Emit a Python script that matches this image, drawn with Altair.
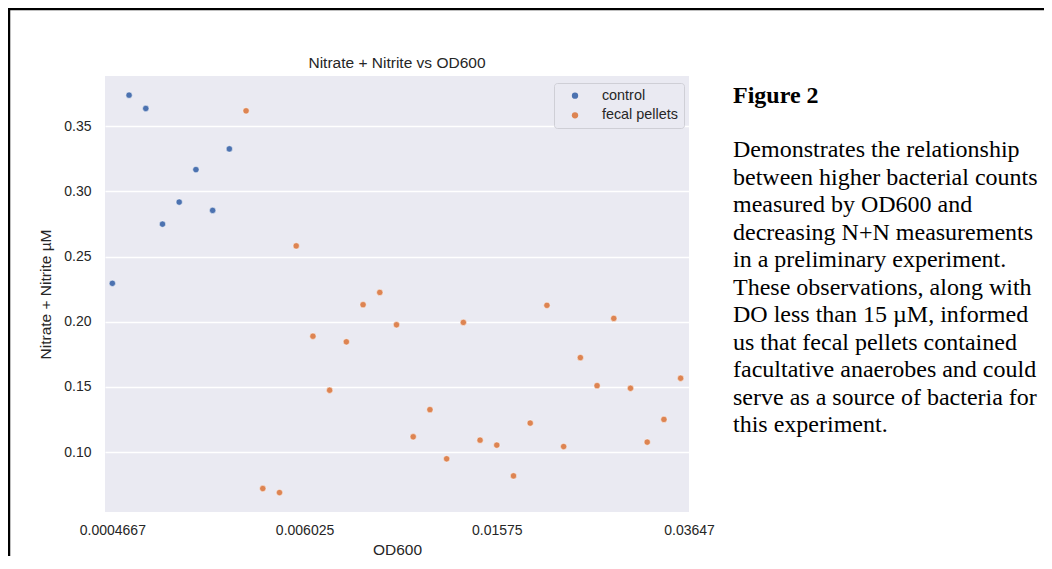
import altair as alt
import pandas as pd

# ---- data (x = rank position of the OD600 category) ----
control_pos = [0, 1, 2, 3, 4, 5, 6, 7]
control_nn = [0.2295, 0.3738, 0.3636, 0.2749, 0.2918, 0.3167, 0.2854, 0.3326]

fecal_pos = [8, 9, 10, 11, 12, 13, 14, 15, 16, 17, 18, 19, 20, 21, 22, 23, 24,
             25, 26, 27, 28, 29, 30, 31, 32, 33, 34]
fecal_nn = [0.3618, 0.0721, 0.0690, 0.2582, 0.1889, 0.1475, 0.1846, 0.2131,
            0.2225, 0.1977, 0.1118, 0.1326, 0.0949, 0.1995, 0.1092, 0.1054,
            0.0818, 0.1223, 0.2126, 0.1043, 0.1725, 0.1510, 0.2026, 0.1490,
            0.1077, 0.1251, 0.1567]

groups = ["control", "fecal pellets"]
group_colors = ["#4C72B0", "#DD8452"]

x_tick_pos = [0, 11.5, 23, 34.5]
x_tick_labels = ["0.0004667", "0.006025", "0.01575", "0.03647"]
y_ticks = [0.10, 0.15, 0.20, 0.25, 0.30, 0.35]

plot_title = "Nitrate + Nitrite vs OD600"
caption_title = "Figure 2"
caption_lines = [
    "Demonstrates the relationship",
    "between higher bacterial counts",
    "measured by OD600 and",
    "decreasing N+N measurements",
    "in a preliminary experiment.",
    "These observations, along with",
    "DO less than 15 \u00b5M, informed",
    "us that fecal pellets contained",
    "facultative anaerobes and could",
    "serve as a source of bacteria for",
    "this experiment.",
]

# ---- build table ----
df = pd.DataFrame({
    "pos": control_pos + fecal_pos,
    "nn": control_nn + fecal_nn,
    "group": [groups[0]] * len(control_pos) + [groups[1]] * len(fecal_pos),
})

label_expr = "''"
for p, l in reversed(list(zip(x_tick_pos, x_tick_labels))):
    label_expr = f"datum.value == {p} ? '{l}' : ({label_expr})"

W, H = 584, 436
PAD = {"left": 97, "top": 68, "right": 355, "bottom": 44}
TXT = "#262626"
SANS = "Liberation Sans"

points = alt.Chart(df).mark_circle(
    size=40, opacity=1, stroke="white", strokeWidth=0.5
).encode(
    x=alt.X("pos:Q",
            scale=alt.Scale(domain=[-0.44, 34.5], nice=False, zero=False),
            axis=alt.Axis(values=x_tick_pos, labelExpr=label_expr, grid=False,
                          domain=False, ticks=False, labelPadding=11,
                          labelFontSize=14, labelColor=TXT, labelFont=SANS,
                          title="OD600", titleFontSize=15.5, titleFontWeight="normal",
                          titleColor=TXT, titleFont=SANS, titlePadding=5,
                          labelOverlap=False, labelFlush=False)),
    y=alt.Y("nn:Q",
            scale=alt.Scale(domain=[0.0541, 0.3885], nice=False, zero=False),
            axis=alt.Axis(values=y_ticks, format=".2f", grid=True, gridColor="white",
                          gridWidth=1.3, domain=False, ticks=False, labelPadding=14,
                          labelFontSize=14, labelColor=TXT, labelFont=SANS,
                          title="Nitrate + Nitrite \u00b5M", titleFontSize=15.5,
                          titleFontWeight="normal", titleColor=TXT, titleFont=SANS,
                          titlePadding=10)),
    color=alt.Color("group:N",
                    scale=alt.Scale(domain=groups, range=group_colors),
                    legend=alt.Legend(title=None, orient="none", legendX=449, legendY=7,
                                      fillColor="#EAEAF2", strokeColor="#CFCFD6",
                                      cornerRadius=3, padding=5.5, symbolOffset=8.3,
                                      labelOffset=19.7, labelFontSize=14.4, labelFont=SANS,
                                      labelColor=TXT, rowPadding=4.6, symbolSize=40,
                                      symbolType="circle", symbolStrokeWidth=0)),
)

one = pd.DataFrame({"k": [0]})

frame_top = alt.Chart(one).mark_rule(color="black", strokeWidth=2.5).encode(
    x=alt.value(-PAD["left"]), x2=alt.value(W + PAD["right"]), y=alt.value(-67))
frame_left = alt.Chart(one).mark_rule(color="black", strokeWidth=2.5).encode(
    x=alt.value(-PAD["left"] + 1), y=alt.value(-PAD["top"]), y2=alt.value(H + PAD["bottom"]))

title_mark = alt.Chart(one).mark_text(
    text=plot_title, font=SANS, fontSize=15.5, align="center", baseline="alphabetic",
    color=TXT
).encode(x=alt.value(W / 2), y=alt.value(-8))

fig_title = alt.Chart(one).mark_text(
    text=caption_title, font="Liberation Serif", fontSize=24, fontWeight="bold",
    align="left", baseline="alphabetic", color="black"
).encode(x=alt.value(628), y=alt.value(27))

fig_body = alt.Chart(one).mark_text(
    text=caption_lines, font="Liberation Serif", fontSize=24, lineHeight=27.5,
    align="left", baseline="alphabetic", color="black"
).encode(x=alt.value(628), y=alt.value(81.3))

chart = alt.layer(points, frame_top, frame_left, title_mark, fig_title, fig_body).properties(
    width=W, height=H,
    autosize=alt.AutoSizeParams(type="none"),
    padding=PAD,
    background="white",
).configure_view(fill="#EAEAF2", strokeWidth=0)

chart.save("out.html", embed_options={"renderer": "svg", "actions": False})
